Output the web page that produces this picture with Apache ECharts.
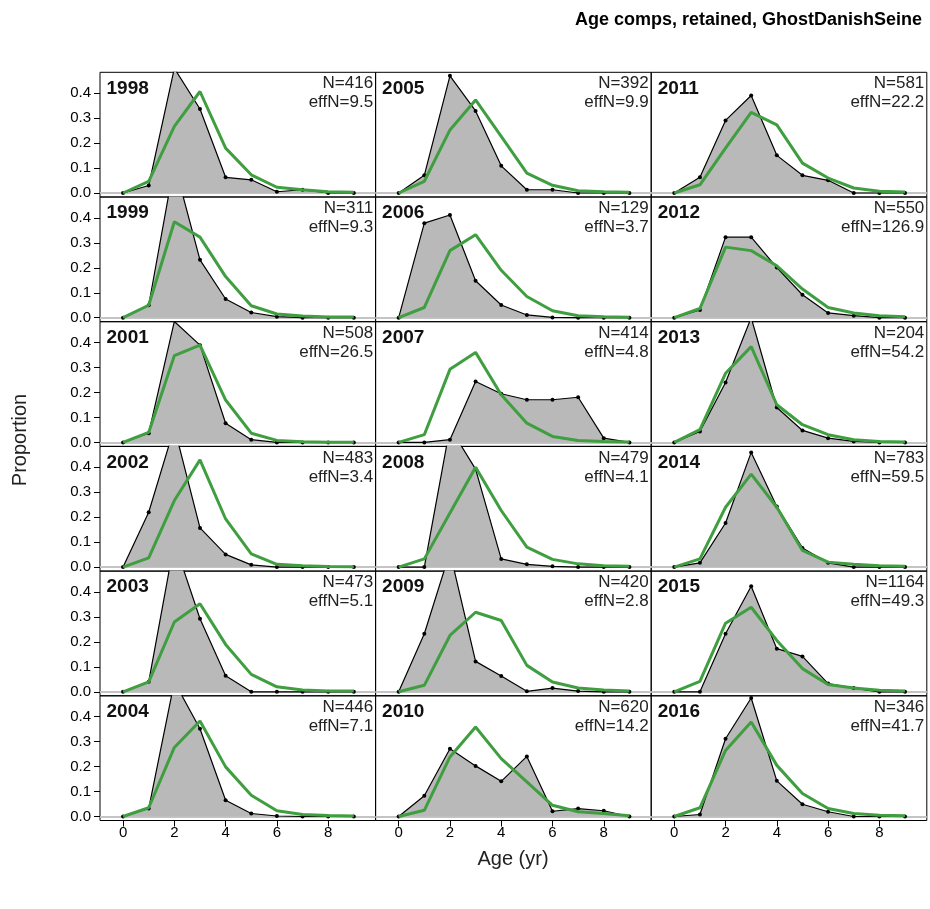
<!DOCTYPE html>
<html>
<head>
<meta charset="utf-8">
<script src="https://cdn.jsdelivr.net/npm/echarts@6/dist/echarts.min.js"></script>
<style>
html,body{margin:0;padding:0;background:#fff;}
#chart{width:930px;height:909px;}
</style>
</head>
<body>
<div id="chart"></div>
<script>
const ages = [0,1,2,3,4,5,6,7,8,9];
const years = [1998,1999,2001,2002,2003,2004,2005,2006,2007,2008,2009,2010,2011,2012,2013,2014,2015,2016];
const nLabels = ['416','311','508','483','473','446','392','129','414','479','420','620','581','550','204','783','1164','346'];
const effNLabels = ['9.5','9.3','26.5','3.4','5.1','7.1','9.9','3.7','4.8','4.1','2.8','14.2','22.2','126.9','54.2','59.5','49.3','41.7'];
const xTicks = [0,2,4,6,8];
const yTicks = [0,0.1,0.2,0.3,0.4];

// observed (grey polygon) and expected (green line) proportions by age 0..9
const obs1998 = [0,0.03,0.50,0.337,0.063,0.053,0.005,0.013,0,0];
const exp1998 = [0,0.047,0.267,0.407,0.18,0.073,0.023,0.013,0.005,0.003];
const obs1999 = [0,0.05,0.618,0.232,0.075,0.021,0.004,0,0,0];
const exp1999 = [0,0.05,0.385,0.323,0.165,0.048,0.015,0.007,0.003,0.003];
const obs2001 = [0,0.037,0.485,0.39,0.077,0.011,0,0,0,0];
const exp2001 = [0,0.04,0.348,0.39,0.17,0.037,0.008,0.003,0.001,0.001];
const obs2002 = [0,0.22,0.56,0.157,0.051,0.009,0,0,0,0];
const exp2002 = [0,0.037,0.267,0.43,0.193,0.053,0.011,0.005,0.002,0.001];
const obs2003 = [0,0.04,0.60,0.293,0.064,0,0,0,0,0];
const exp2003 = [0,0.04,0.28,0.353,0.19,0.07,0.02,0.007,0.003,0.003];
const obs2004 = [0,0.032,0.54,0.352,0.065,0.012,0.002,0,0,0];
const exp2004 = [0,0.035,0.277,0.383,0.199,0.085,0.023,0.008,0.004,0.002];
const obs2005 = [0,0.071,0.47,0.329,0.109,0.013,0.013,0,0,0];
const exp2005 = [0,0.047,0.253,0.373,0.227,0.08,0.031,0.009,0.005,0.003];
const obs2006 = [0,0.379,0.412,0.148,0.051,0.011,0.001,0,0,0];
const exp2006 = [0,0.041,0.269,0.333,0.19,0.085,0.028,0.008,0.004,0.002];
const obs2007 = [0,0,0.011,0.244,0.195,0.171,0.171,0.181,0.017,0];
const exp2007 = [0,0.031,0.293,0.361,0.191,0.077,0.024,0.008,0.004,0.002];
const obs2008 = [0,0,0.56,0.393,0.033,0.011,0.003,0,0,0];
const exp2008 = [0,0.033,0.217,0.40,0.227,0.08,0.031,0.013,0.005,0.003];
const obs2009 = [0,0.233,0.56,0.122,0.063,0.002,0.015,0.003,0,0];
const exp2009 = [0,0.026,0.226,0.319,0.286,0.106,0.039,0.015,0.007,0.003];
const obs2010 = [0,0.083,0.272,0.203,0.141,0.241,0.021,0.032,0.023,0];
const exp2010 = [0,0.025,0.239,0.359,0.232,0.139,0.045,0.019,0.012,0.003];
const obs2011 = [0,0.063,0.291,0.391,0.151,0.071,0.051,0,0,0];
const exp2011 = [0,0.033,0.18,0.323,0.273,0.12,0.06,0.02,0.007,0.004];
const obs2012 = [0,0.031,0.323,0.323,0.201,0.092,0.019,0.008,0,0];
const exp2012 = [0,0.037,0.283,0.269,0.208,0.115,0.041,0.019,0.008,0.004];
const obs2013 = [0,0.044,0.24,0.50,0.14,0.048,0.017,0.004,0,0];
const exp2013 = [0,0.051,0.277,0.384,0.151,0.071,0.031,0.011,0.004,0.002];
const obs2014 = [0,0.017,0.177,0.46,0.243,0.077,0.017,0,0,0];
const exp2014 = [0,0.033,0.24,0.373,0.24,0.067,0.02,0.011,0.005,0.003];
const obs2015 = [0,0,0.233,0.423,0.173,0.142,0.033,0.015,0,0];
const exp2015 = [0,0.042,0.275,0.339,0.206,0.093,0.029,0.015,0.006,0.003];
const obs2016 = [0,0.008,0.312,0.475,0.143,0.049,0.019,0,0,0];
const exp2016 = [0,0.035,0.265,0.379,0.205,0.092,0.032,0.012,0.005,0.003];

const obsList = [obs1998,obs1999,obs2001,obs2002,obs2003,obs2004,obs2005,obs2006,obs2007,obs2008,obs2009,obs2010,obs2011,obs2012,obs2013,obs2014,obs2015,obs2016];
const expList = [exp1998,exp1999,exp2001,exp2002,exp2003,exp2004,exp2005,exp2006,exp2007,exp2008,exp2009,exp2010,exp2011,exp2012,exp2013,exp2014,exp2015,exp2016];

const FONT = '"Liberation Sans", Arial, sans-serif';
const colLeft = [100, 375.6, 651.2];
const colW = 275.6;
const rowTop0 = 72.3;
const rowPitch = 124.7;
const rowH = 124.7;
const nRows = 6;

const grids = [], xAxes = [], yAxes = [], series = [], graphics = [];

years.forEach((yr, i) => {
  const col = Math.floor(i / nRows);
  const row = i % nRows;
  const left = colLeft[col];
  const top = rowTop0 + row * rowPitch;
  grids.push({left: left, top: top, width: colW, height: rowH, show: true,
    borderColor: '#000', borderWidth: 1, backgroundColor: 'transparent', containLabel: false});
  const bottomRow = row === nRows - 1;
  const leftCol = col === 0;
  xAxes.push({type: 'value', gridIndex: i, min: -0.9, max: 9.85, position: 'bottom',
    axisLine: {show: false, onZero: false}, splitLine: {show: false},
    axisTick: {show: bottomRow, length: 6, inside: false, customValues: xTicks, lineStyle: {color: '#000', width: 1}},
    axisLabel: {show: bottomRow, customValues: xTicks, color: '#000', fontFamily: FONT, fontSize: 15, margin: 5}
  });
  yAxes.push({type: 'value', gridIndex: i, min: -0.016, max: 0.484, position: 'left',
    axisLine: {show: false, onZero: false}, splitLine: {show: false},
    axisTick: {show: leftCol, length: 6, customValues: yTicks, lineStyle: {color: '#000', width: 1}},
    axisLabel: {show: leftCol, customValues: yTicks, color: '#000', fontFamily: FONT, fontSize: 15, margin: 9,
      formatter: v => v.toFixed(1)}
  });
  const obs = obsList[i], ex = expList[i];
  series.push({type: 'line', xAxisIndex: i, yAxisIndex: i, data: ages.map((a, k) => [a, obs[k]]),
    clip: true, symbol: 'circle', symbolSize: 4, showSymbol: true,
    itemStyle: {color: '#000'}, lineStyle: {color: '#000', width: 1.2},
    areaStyle: {color: '#b9b9b9', opacity: 1, origin: 0},
    animation: false, silent: true, z: 2,
    markLine: {silent: true, symbol: 'none', label: {show: false},
      lineStyle: {color: '#c4c4c4', width: 2, type: 'solid'}, data: [{yAxis: 0}], z: 1}
  });
  series.push({type: 'line', xAxisIndex: i, yAxisIndex: i, data: ages.map((a, k) => [a, ex[k]]),
    clip: true, symbol: 'none', showSymbol: false,
    lineStyle: {color: '#3f9e3f', width: 3}, animation: false, silent: true, z: 3
  });
  graphics.push({type: 'text', x: left + 6.5, y: top + 16, z: 10,
    style: {text: String(yr), font: 'bold 19px ' + FONT, fill: '#111', textVerticalAlign: 'middle'}});
  graphics.push({type: 'text', x: left + colW - 2.5, y: top + 2, z: 10,
    style: {text: 'N=' + nLabels[i] + '\neffN=' + effNLabels[i], font: '17px ' + FONT, fill: '#222',
      textAlign: 'right', lineHeight: 19}});
});

graphics.push({type: 'text', x: 922, y: 11, z: 10,
  style: {text: 'Age comps, retained, GhostDanishSeine', font: 'bold 18px ' + FONT, fill: '#000', textAlign: 'right'}});
graphics.push({type: 'text', x: 513, y: 849, z: 10,
  style: {text: 'Age (yr)', font: '20px ' + FONT, fill: '#222', textAlign: 'center'}});
graphics.push({type: 'text', x: 10, y: 440, rotation: Math.PI / 2, z: 10,
  style: {text: 'Proportion', font: '20px ' + FONT, fill: '#222', textAlign: 'center', textVerticalAlign: 'top'}});

const chart = echarts.init(document.getElementById('chart'), null, {renderer: 'canvas'});
chart.setOption({
  animation: false,
  backgroundColor: '#fff',
  grid: grids, xAxis: xAxes, yAxis: yAxes, series: series, graphic: graphics
});
</script>
</body>
</html>
